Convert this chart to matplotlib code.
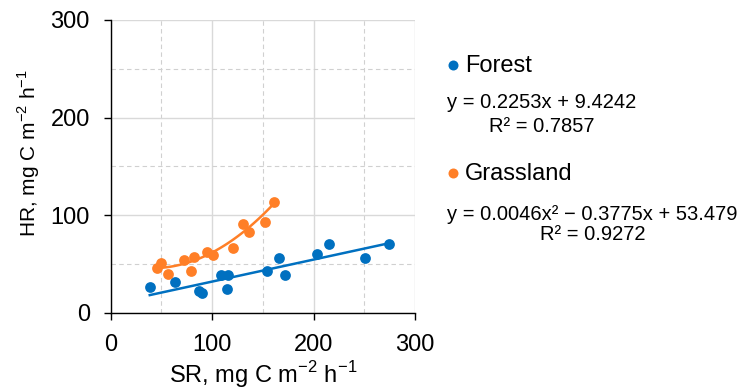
import matplotlib
matplotlib.use("Agg")
import matplotlib.pyplot as plt
import numpy as np
from matplotlib.ticker import MultipleLocator

matplotlib.rcParams["font.family"] = ["Liberation Sans", "DejaVu Sans"]
matplotlib.rcParams["mathtext.fontset"] = "custom"
matplotlib.rcParams["mathtext.rm"] = "Liberation Sans"

# Forest points (SR, HR)
forest_sr = [38.5, 63.4, 87, 90.4, 108.5, 116, 114.7, 154, 165.7, 171.9, 203.5, 215.6, 250.8, 274.2]
forest_hr = [26, 31.8, 22, 19.8, 38.6, 38.6, 24.6, 42.7, 56.4, 38.3, 60.1, 70.7, 56.4, 70.7]

# Grassland points
grass_sr = [45.4, 49.6, 56.2, 72.6, 78.9, 82.5, 95.3, 101.2, 120.3, 130.8, 136.4, 151.9, 160.7]
grass_hr = [46, 50.6, 39.7, 54, 43, 56.8, 61.9, 58.8, 66.6, 90.9, 82.7, 93.2, 113.7]

# trendline coefficients as printed on the chart
forest_fit = [0.2253, 9.4242]
grass_fit = [0.0046, -0.3775, 53.479]

BLUE = "#0070C0"
ORANGE = "#FF7F27"

fig = plt.figure(figsize=(7.41, 3.9), dpi=100)
ax = fig.add_axes([0.1494, 0.198, 0.4106, 0.751])

ax.set_xlim(0, 300)
ax.set_ylim(0, 300)
ax.xaxis.set_major_locator(MultipleLocator(100))
ax.yaxis.set_major_locator(MultipleLocator(100))
ax.xaxis.set_minor_locator(MultipleLocator(50))
ax.yaxis.set_minor_locator(MultipleLocator(50))
ax.grid(which="major", color="#d9d9d9", lw=1.0)
ax.grid(which="minor", color="#d0d0d0", lw=0.8, ls=(0, (4, 3)))
ax.set_axisbelow(True)
ax.tick_params(which="minor", length=0)
ax.tick_params(which="major", length=5, width=1, direction="out", labelsize=17, color="black")
ax.tick_params(axis="x", pad=10)
ax.tick_params(axis="y", pad=10)
for s in ("top", "right"):
    ax.spines[s].set_visible(False)
for s in ("left", "bottom"):
    ax.spines[s].set_color("black")
    ax.spines[s].set_linewidth(1.0)

xf = np.linspace(min(forest_sr), max(forest_sr), 50)
ax.plot(xf, np.polyval(forest_fit, xf), color=BLUE, lw=1.8, zorder=2)
xg = np.linspace(min(grass_sr), max(grass_sr), 80)
ax.plot(xg, np.polyval(grass_fit, xg), color=ORANGE, lw=1.8, zorder=2)

ax.scatter(forest_sr, forest_hr, s=60, color=BLUE, zorder=3, linewidths=0)
ax.scatter(grass_sr, grass_hr, s=60, color=ORANGE, zorder=3, linewidths=0)

ax.set_xlabel(r"SR, mg C m$^{\mathregular{-2}}$ h$^{\mathregular{-1}}$", fontsize=17)
ax.xaxis.set_label_coords(0.5, -0.158)
ax.set_ylabel(r"HR, mg C m$^{\mathregular{-2}}$ h$^{\mathregular{-1}}$", fontsize=15)
ax.yaxis.set_label_coords(-0.226, 0.546)

# legend / equations
for yy, c in ((65, BLUE), (173, ORANGE)):
    ax.plot([453 / 741], [1 - yy / 390], "o", ms=7.2, color=c, mew=0,
            transform=fig.transFigure, clip_on=False)
fig.text(465 / 741, 1 - 66 / 390, "Forest", fontsize=17, va="center")
fig.text(447 / 741, 1 - 103 / 390, "y = 0.2253x + 9.4242", fontsize=14.5, va="center")
fig.text(489 / 741, 1 - 126 / 390, "R\u00b2 = 0.7857", fontsize=14.5, va="center")
fig.text(465 / 741, 1 - 174 / 390, "Grassland", fontsize=17, va="center")
fig.text(447 / 741, 1 - 214 / 390, "y = 0.0046x\u00b2 \u2212 0.3775x + 53.479", fontsize=14.5, va="center")
fig.text(540 / 741, 1 - 235 / 390, "R\u00b2 = 0.9272", fontsize=14.5, va="center")

fig.savefig("out.png", dpi=100)
